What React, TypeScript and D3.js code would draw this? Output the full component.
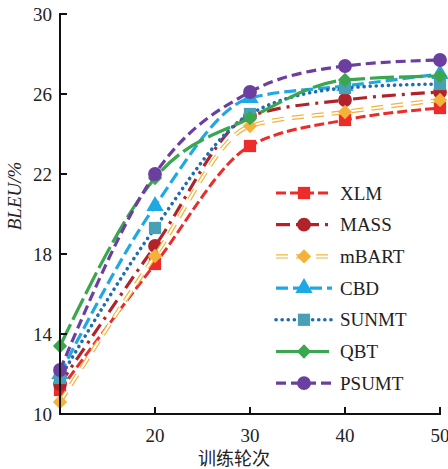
import { useEffect, useRef } from 'react';
import * as d3 from 'd3';

const epochs = [10, 20, 30, 40, 50];
const xTicks = [20, 30, 40, 50];
const yTicks = [10, 14, 18, 22, 26, 30];

const xlm = [11.2, 17.5, 23.4, 24.7, 25.3];
const mass = [11.5, 18.4, 24.9, 25.7, 26.1];
const mbart = [10.6, 17.9, 24.4, 25.1, 25.7];
const cbd = [12.0, 20.4, 25.8, 26.4, 27.0];
const sunmt = [11.8, 19.3, 25.0, 26.3, 26.5];
const qbt = [13.4, 21.8, 24.8, 26.7, 26.9];
const psumt = [12.2, 22.0, 26.1, 27.4, 27.7];

const seriesNames = ['XLM', 'MASS', 'mBART', 'CBD', 'SUNMT', 'QBT', 'PSUMT'];

type Style = {
  color: string;
  marker: string;
  markerColor: string;
  dash: string;
  hollow?: boolean;
  cap?: string;
  width: number;
};

const styles: Style[] = [
  { color: '#ec2b2b', marker: 'square', markerColor: '#ec2b2b', dash: '10,4', width: 3 },
  { color: '#b1232a', marker: 'circle', markerColor: '#b1232a', dash: '14,6,3,6', width: 3.2 },
  { color: '#f4b23a', marker: 'diamond', markerColor: '#f4b23a', dash: '12,8', hollow: true, width: 4.4 },
  { color: '#1fa9e4', marker: 'triangle', markerColor: '#1fa9e4', dash: '12,5', width: 3.2 },
  { color: '#1f6cb5', marker: 'square', markerColor: '#48a0b7', dash: '0.1,6', cap: 'round', width: 3.6 },
  { color: '#3aa64e', marker: 'diamond', markerColor: '#3aa64e', dash: '24,5', width: 3.2 },
  { color: '#6b3fa0', marker: 'circle', markerColor: '#6b3fa0', dash: '10,5', width: 3.2 },
];

const values = [xlm, mass, mbart, cbd, sunmt, qbt, psumt];

const markerPath = (kind: string, size: number) => {
  const symbols: Record<string, d3.SymbolType> = {
    square: d3.symbolSquare,
    circle: d3.symbolCircle,
    diamond: d3.symbolDiamond2,
    triangle: d3.symbolTriangle,
  };
  return d3.symbol(symbols[kind], size)() as string;
};

const markerSize: Record<string, number> = { square: 150, circle: 150, diamond: 130, triangle: 130 };

export default function App() {
  const ref = useRef<SVGSVGElement | null>(null);

  useEffect(() => {
    if (!ref.current) return;
    const svg = d3.select(ref.current);
    svg.selectAll('*').remove();

    const x = d3.scaleLinear().domain([10, 50]).range([60, 440]);
    const y = d3.scaleLinear().domain([10, 30]).range([414, 14]);
    const font = '"Liberation Serif", "Times New Roman", serif';

    // smoothed lines like the original spline connection
    const line = d3
      .line<number>()
      .x((_, i) => x(epochs[i]))
      .y((d) => y(d))
      .curve(d3.curveMonotoneX);

    const plot = svg.append('g');

    values.forEach((vals, si) => {
      const s = styles[si];
      const g = plot.append('g');
      g.append('path')
        .attr('d', line(vals))
        .attr('fill', 'none')
        .attr('stroke', s.color)
        .attr('stroke-width', s.width)
        .attr('stroke-dasharray', s.dash)
        .attr('stroke-linecap', s.cap || 'butt');
      if (s.hollow) {
        g.append('path')
          .attr('d', line(vals))
          .attr('fill', 'none')
          .attr('stroke', '#fff')
          .attr('stroke-width', 2)
          .attr('stroke-dasharray', s.dash);
      }
      g.selectAll('.m')
        .data(vals)
        .enter()
        .append('path')
        .attr('d', markerPath(s.marker, markerSize[s.marker]))
        .attr('transform', (d, i) => `translate(${x(epochs[i])},${y(d)})`)
        .attr('fill', s.markerColor);
    });

    // axes
    const axis = svg.append('g').attr('stroke', '#111').attr('stroke-width', 2).attr('fill', 'none');
    axis.append('line').attr('x1', 60).attr('x2', 60).attr('y1', y(30) - 1).attr('y2', y(10) + 1);
    axis.append('line').attr('x1', 59).attr('x2', x(50) + 1).attr('y1', y(10)).attr('y2', y(10));

    yTicks.forEach((t) => {
      axis.append('line').attr('x1', 60).attr('x2', 67).attr('y1', y(t)).attr('y2', y(t));
      svg.append('text')
        .attr('x', 52)
        .attr('y', y(t))
        .attr('dy', '0.35em')
        .attr('text-anchor', 'end')
        .style('font-family', font)
        .style('font-size', '19px')
        .attr('fill', '#222')
        .text(t);
    });

    xTicks.forEach((t) => {
      axis.append('line').attr('x1', x(t)).attr('x2', x(t)).attr('y1', y(10)).attr('y2', y(10) - 7);
      svg.append('text')
        .attr('x', x(t))
        .attr('y', 442)
        .attr('text-anchor', 'middle')
        .style('font-family', font)
        .style('font-size', '19px')
        .attr('fill', '#222')
        .text(t);
    });

    svg.append('text')
      .attr('x', 234)
      .attr('y', 465)
      .attr('text-anchor', 'middle')
      .style('font-family', '"Noto Sans CJK SC", sans-serif')
      .style('font-size', '18px')
      .attr('fill', '#222')
      .text('训练轮次');

    svg.append('text')
      .attr('transform', 'translate(21,196) rotate(-90)')
      .attr('text-anchor', 'middle')
      .style('font-family', font)
      .style('font-style', 'italic')
      .style('font-size', '19px')
      .attr('fill', '#222')
      .text('BLEU/%');

    // legend
    const legend = svg.append('g').attr('transform', 'translate(276,193)');
    seriesNames.forEach((name, i) => {
      const s = styles[i];
      const row = legend.append('g').attr('transform', `translate(0,${i * 31.7})`);
      const seg = `M0,0L56,0`;
      row.append('path')
        .attr('d', seg)
        .attr('stroke', s.color)
        .attr('stroke-width', s.width)
        .attr('stroke-dasharray', s.dash)
        .attr('stroke-linecap', s.cap || 'butt');
      if (s.hollow) {
        row.append('path')
          .attr('d', seg)
          .attr('stroke', '#fff')
          .attr('stroke-width', 2)
          .attr('stroke-dasharray', s.dash);
      }
      row.append('path')
        .attr('d', markerPath(s.marker, markerSize[s.marker]))
        .attr('transform', 'translate(28,0)')
        .attr('fill', s.markerColor);
      row.append('text')
        .attr('x', 64)
        .attr('y', 0)
        .attr('dy', '0.35em')
        .style('font-family', font)
        .style('font-size', '19px')
        .attr('fill', '#222')
        .text(name);
    });
  }, []);

  return (
    <svg
      ref={ref}
      width={448}
      height={469}
      style={{ position: 'absolute', left: 0, top: 0, background: '#fff' }}
    />
  );
}
